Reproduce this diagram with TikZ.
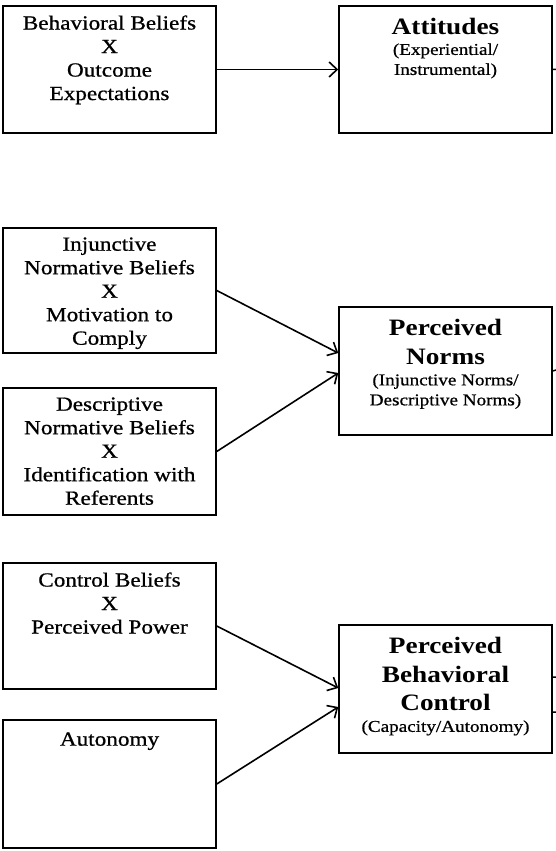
\documentclass[tikz,border=0pt]{standalone}
\usepackage{fontspec}
\setmainfont{Liberation Serif}[FakeStretch=1.16, UprightFeatures={FakeBold=0.8}]
\usepackage{tikz}
\usetikzlibrary{
    arrows.meta,
    positioning
}

\tikzset{
    box/.style={draw, line width=1.5pt, minimum width=213pt, minimum height=127pt, inner sep=0pt},
    boxtext/.style={anchor=north, align=center, inner sep=0pt, font=\fontsize{20}{23.5}\selectfont},
    title/.style={anchor=north, align=center, inner sep=0pt, font=\fontsize{23.5}{28.5}\selectfont\bfseries},
    subtitle/.style={align=center, inner sep=0pt, font=\fontsize{16.5}{20}\selectfont},
    link/.style={-{Straight Barb[length=8pt, width=15pt]}, line width=1.6pt}
}

\begin{document}
\begin{tikzpicture}[x=1pt, y=-1pt]
    \useasboundingbox (0, 0) rectangle (556, 851);
    % attitudes
    \node[box] (bb) at (109.5, 69.5) {};
    \node[boxtext] (bb-t) at ([yshift=-10pt]bb.north) {Behavioral Beliefs\\X\\Outcome\\Expectations};
    \node[box] (att) at (445.5, 69.5) {};
    \node[title] (att-t) at ([yshift=-13pt]att.north) {Attitudes};
    \node[subtitle, below=8pt of att-t] (att-s) {(Experiential/\\Instrumental)};
    % norms
    \node[box, minimum height=125pt] (inb) at (109.5, 290.5) {};
    \node[boxtext] (inb-t) at ([yshift=-10pt]inb.north) {Injunctive\\Normative Beliefs\\X\\Motivation to\\Comply};
    \node[box] (dnb) at (109.5, 451.5) {};
    \node[boxtext] (dnb-t) at ([yshift=-10pt]dnb.north) {Descriptive\\Normative Beliefs\\X\\Identification with\\Referents};
    \node[box, minimum height=128pt] (nrm) at (445.5, 371) {};
    \node[title] (nrm-t) at ([yshift=-13pt]nrm.north) {Perceived\\Norms};
    \node[subtitle, below=9pt of nrm-t] (nrm-s) {(Injunctive Norms/\\Descriptive Norms)};
    % control
    \node[box, minimum height=126pt] (cb) at (109.5, 626) {};
    \node[boxtext] (cb-t) at ([yshift=-10pt]cb.north) {Control Beliefs\\X\\Perceived Power};
    \node[box, minimum height=128pt] (aut) at (109.5, 784) {};
    \node[boxtext] (aut-t) at ([yshift=-13pt]aut.north) {Autonomy};
    \node[box, minimum height=128pt] (pbc) at (445.5, 689) {};
    \node[title] (pbc-t) at ([yshift=-13pt]pbc.north) {Perceived\\Behavioral\\Control};
    \node[subtitle, below=9pt of pbc-t] (pbc-s) {(Capacity/Autonomy)};
    % lines leaving the right edge
    \coordinate (att-out) at (556, 69.5);
    \coordinate (nrm-out) at (556, 370);
    \coordinate (pbc-out1) at (556, 677);
    \coordinate (pbc-out2) at (556, 712);

    \draw[link] (bb.east) -- (att.west);
    \draw[link] (inb.east) -- ([yshift=18pt]nrm.west);
    \draw[link] (dnb.east) -- ([yshift=-2pt]nrm.west);
    \draw[link] (cb.east) -- ([yshift=1pt]pbc.west);
    \draw[link] (aut.east) -- ([yshift=-18pt]pbc.west);
    \draw[line width=1.5pt]
    (att.east) -- (att-out)
    (nrm.east) -- (nrm-out)
    ([yshift=12pt]pbc.east) -- (pbc-out1)
    ([yshift=-23pt]pbc.east) -- (pbc-out2);
\end{tikzpicture}
\end{document}
